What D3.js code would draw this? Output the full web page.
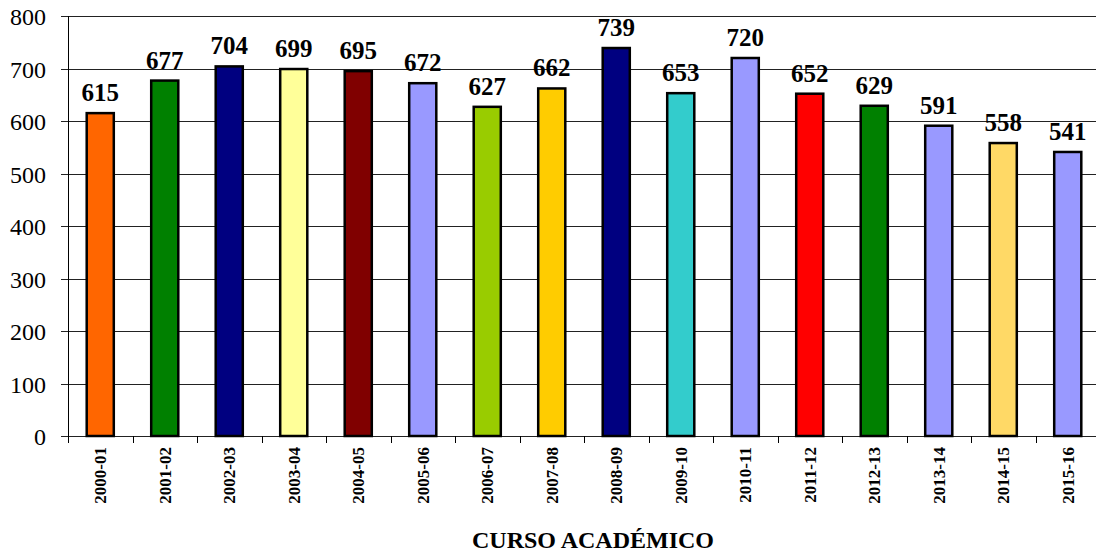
<!DOCTYPE html>
<html>
<head>
<meta charset="utf-8">
<script src="https://cdn.jsdelivr.net/npm/d3@7"></script>
<style>
body { margin: 0; background: #fff; }
text { font-family: "Liberation Serif", "Times New Roman", serif; }
</style>
</head>
<body>
<script>
var courses = ["2000-01","2001-02","2002-03","2003-04","2004-05","2005-06","2006-07","2007-08",
  "2008-09","2009-10","2010-11","2011-12","2012-13","2013-14","2014-15","2015-16"];
var counts = [615, 677, 704, 699, 695, 672, 627, 662, 739, 653, 720, 652, 629, 591, 558, 541];
var colors = ["#ff6600","#008000","#000080","#ffff99","#800000","#9999ff","#99cc00","#ffcc00",
  "#000080","#33cccc","#9999ff","#ff0000","#008000","#9999ff","#ffd966","#9999ff"];
var yTicks = [0, 100, 200, 300, 400, 500, 600, 700, 800];

var width = 1096, height = 555;
var plotLeft = 68, plotRight = 1100, plotTop = 16, plotBottom = 436;

var svg = d3.select("body").append("svg")
  .attr("width", width)
  .attr("height", height);

var x = d3.scaleBand().domain(courses).range([plotLeft, plotRight]).paddingInner(0.58).paddingOuter(0.29);
var y = d3.scaleLinear().domain([0, 800]).range([plotBottom, plotTop]);

// gridlines
svg.selectAll("line.grid")
  .data(yTicks)
.enter()
  .append("line")
  .attr("x1", plotLeft - 7)
  .attr("x2", plotRight)
  .attr("y1", function(d) { return Math.round(y(d)) + 0.5; })
  .attr("y2", function(d) { return Math.round(y(d)) + 0.5; })
  .attr("stroke", "#222")
  .attr("stroke-width", 1);

svg.selectAll("text.ylab")
  .data(yTicks)
.enter()
  .append("text")
  .attr("x", 46)
  .attr("y", function(d) { return y(d) + 9; })
  .attr("text-anchor", "end")
  .attr("font-size", "24px")
  .text(function(d) { return d; });

// left axis line
svg.append("line")
  .attr("x1", plotLeft + 0.5).attr("x2", plotLeft + 0.5)
  .attr("y1", plotTop).attr("y2", plotBottom + 7)
  .attr("stroke", "#000");

// category ticks
var step = x.step();
svg.selectAll("line.xtick")
  .data(d3.range(courses.length + 1))
.enter()
  .append("line")
  .attr("x1", function(i) { return Math.round(plotLeft + i * step) + 0.5; })
  .attr("x2", function(i) { return Math.round(plotLeft + i * step) + 0.5; })
  .attr("y1", plotBottom)
  .attr("y2", plotBottom + 7)
  .attr("stroke", "#000");

svg.selectAll("rect.bar")
  .data(counts)
.enter()
  .append("rect")
  .attr("x", function(d, i) { return x(courses[i]); })
  .attr("width", x.bandwidth())
  .attr("y", function(d) { return y(d); })
  .attr("height", function(d) { return y(0) - y(d); })
  .attr("fill", function(d, i) { return colors[i]; })
  .attr("stroke", "#000")
  .attr("stroke-width", 2.5);

svg.selectAll("text.val")
  .data(counts)
.enter()
  .append("text")
  .attr("x", function(d, i) { return x(courses[i]) + x.bandwidth() / 2; })
  .attr("y", function(d) { return y(d) - 12; })
  .attr("text-anchor", "middle")
  .attr("font-size", "25px")
  .attr("font-weight", "bold")
  .text(function(d) { return d; });

svg.selectAll("text.xlab")
  .data(courses)
.enter()
  .append("text")
  .attr("transform", function(d) {
    return "translate(" + (x(d) + x.bandwidth() / 2 + 6) + "," + 447 + ") rotate(-90)";
  })
  .attr("text-anchor", "end")
  .attr("font-size", "17px")
  .attr("font-weight", "bold")
  .text(function(d) { return d; });

svg.append("text")
  .attr("x", 593)
  .attr("y", 548)
  .attr("text-anchor", "middle")
  .attr("font-size", "24px")
  .attr("font-weight", "bold")
  .text("CURSO ACADÉMICO");
</script>
</body>
</html>
